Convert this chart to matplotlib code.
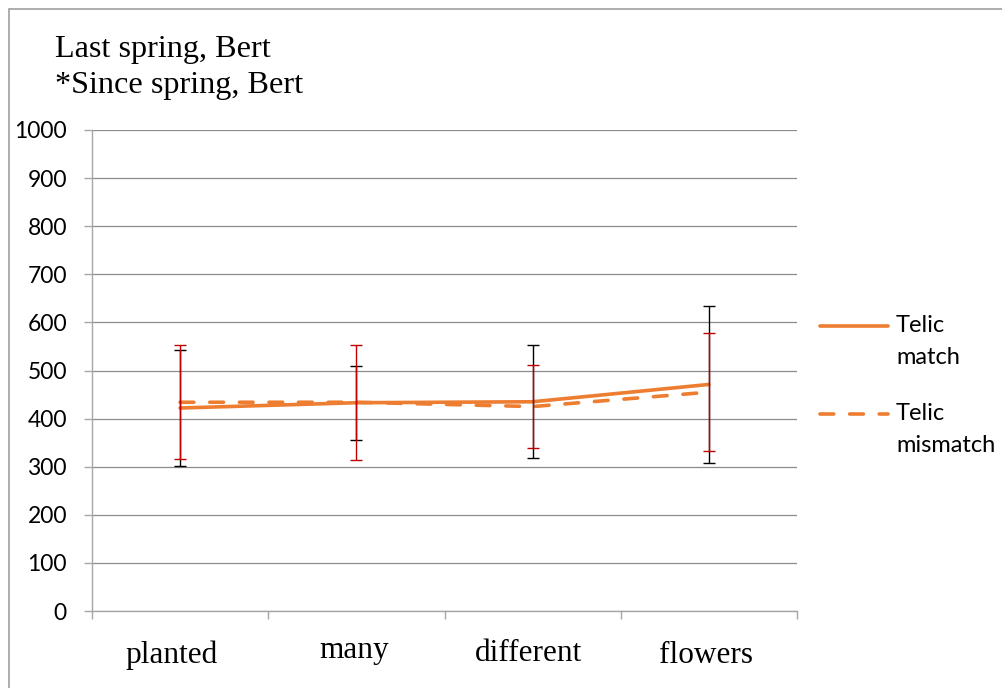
import matplotlib
matplotlib.use("Agg")
import matplotlib.pyplot as plt
from matplotlib.lines import Line2D
from matplotlib.patches import Rectangle
import matplotlib.transforms as mtransforms

# ---- data ----
categories = ["planted", "many", "different", "flowers"]
match_mean = [422, 433, 435, 471]
match_err = [121, 77, 117, 164]
mismatch_mean = [434, 434, 425, 455]
mismatch_err = [119, 120, 86, 123]
yticks = [0, 100, 200, 300, 400, 500, 600, 700, 800, 900, 1000]
title_lines = ["Last spring, Bert", "*Since spring, Bert"]
legend_labels = [("Telic", "match"), ("Telic", "mismatch")]

ORANGE = "#ED7D31"
GRID = "#8C8C8C"
AXC = "#A6A6A6"
W, H = 1002, 688
LW = 2.6
DASH = (3.8, 4.4)

fig = plt.figure(figsize=(W / 100, H / 100), dpi=100)
ax = fig.add_axes([92 / W, 1 - 611 / H, (797 - 92) / W, (611 - 130) / H])

x = [i + 0.5 for i in range(len(categories))]

ax.plot(x, match_mean, color=ORANGE, lw=LW, solid_capstyle="round", zorder=3)
ax.plot(x, mismatch_mean, color=ORANGE, lw=LW, dashes=DASH,
        dash_capstyle="round", zorder=3)
ax.errorbar(x, match_mean, yerr=match_err, fmt="none", ecolor="black",
            elinewidth=1.0, capsize=4.5, capthick=1.0, zorder=4)
ax.errorbar(x, mismatch_mean, yerr=mismatch_err, fmt="none", ecolor="#C00000",
            elinewidth=1.0, capsize=4.5, capthick=1.0, zorder=5)

ax.set_xlim(0, len(categories))
ax.set_ylim(0, 1000)
ax.set_yticks(yticks)
ax.set_yticklabels([str(v) for v in yticks], fontfamily="Lato", fontsize=16.5)
ax.set_xticks(range(len(categories) + 1))
ax.set_xticklabels([])
ax.grid(axis="y", color=GRID, lw=0.9)
ax.set_axisbelow(True)
for s in ["top", "right"]:
    ax.spines[s].set_visible(False)
for s in ["left", "bottom"]:
    ax.spines[s].set_color(AXC)
    ax.spines[s].set_linewidth(1.0)
ax.tick_params(axis="y", length=6, width=1.0, color=AXC, pad=12)
ax.tick_params(axis="x", length=6, width=1.0, color=AXC)

# category labels (text boxes, slightly offset)
label_dx = [-0.048, -0.011, -0.026, -0.017]
label_base = [662.7, 658, 660.7, 663]
trans = mtransforms.blended_transform_factory(ax.transData, fig.transFigure)
for i, (c, dx, b) in enumerate(zip(categories, label_dx, label_base)):
    ax.text(i + 0.5 + dx, 1 - b / H, c, transform=trans, ha="center",
            va="baseline", fontfamily="Liberation Serif", fontsize=22.5,
            clip_on=False)

# title
for ln, b in zip(title_lines, [57, 93]):
    fig.text(55 / W, 1 - b / H, ln, ha="left", va="baseline",
             fontfamily="Liberation Serif", fontsize=23.2)

# legend
leg_y = [326, 414]
styles = [dict(), dict(dashes=DASH, dash_capstyle="round")]
for (l1, l2), yy, st in zip(legend_labels, leg_y, styles):
    fy = 1 - yy / H
    fig.add_artist(Line2D([820 / W, 888 / W], [fy, fy], color=ORANGE, lw=LW,
                          solid_capstyle="round", **st))
    fig.text(896 / W, fy, l1, ha="left", va="center", fontfamily="Lato",
             fontsize=17)
    fig.text(896 / W, 1 - (yy + 32) / H, l2, ha="left", va="center",
             fontfamily="Lato", fontsize=17)

# outer frame
fig.add_artist(Rectangle((8.5 / W, -0.1), 1.2, 1 - 9.5 / H + 0.1,
                         transform=fig.transFigure, fill=False,
                         edgecolor="#A0A0A0", lw=1.2))

fig.savefig("out.png", dpi=100)
